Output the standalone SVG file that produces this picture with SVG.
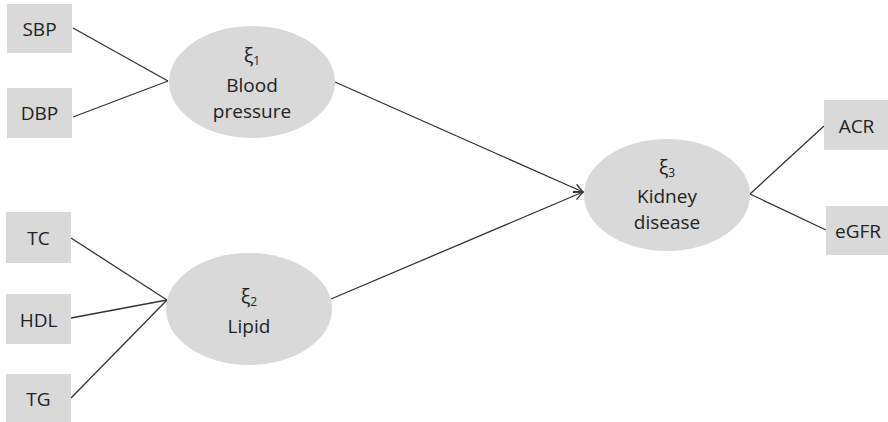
<svg xmlns="http://www.w3.org/2000/svg" width="888" height="422" viewBox="0 0 888 422">
<style>
.box{fill:#d9d9d9;}
.ell{fill:#d9d9d9;}
.t{font-family:"Open Sans","Liberation Sans",sans-serif;font-size:19px;fill:#222;text-anchor:middle;}
.xi{font-size:20px;}
.sub{font-size:12px;}
.c{stroke:#333;stroke-width:1.3;fill:none;}
</style>
<defs>
<marker id="arr" markerWidth="12" markerHeight="12" refX="10" refY="5" orient="auto" markerUnits="userSpaceOnUse">
<path d="M1,0.5 L10,5 L1,9.5" fill="none" stroke="#333" stroke-width="1.3"/>
</marker>
</defs>
<rect width="888" height="422" fill="#fff"/>
<g id="connectors">
<line class="c" x1="73" y1="28" x2="168" y2="81"/>
<line class="c" x1="73" y1="117" x2="168" y2="81"/>
<line class="c" x1="71" y1="238" x2="167" y2="300"/>
<line class="c" x1="71" y1="318" x2="167" y2="300"/>
<line class="c" x1="71" y1="398" x2="167" y2="300"/>
<line class="c" x1="335" y1="82" x2="583" y2="192" marker-end="url(#arr)"/>
<line class="c" x1="331" y1="299" x2="583" y2="192" marker-end="url(#arr)"/>
<line class="c" x1="750" y1="194" x2="824" y2="126"/>
<line class="c" x1="750" y1="194" x2="826" y2="230"/>
</g>
<g id="SBP"><rect class="box" x="7" y="4" width="65" height="49"/><text class="t" x="39.5" y="36">SBP</text></g>
<g id="DBP"><rect class="box" x="7" y="88" width="65" height="50"/><text class="t" x="39.5" y="120">DBP</text></g>
<g id="TC"><rect class="box" x="6" y="212" width="65" height="51"/><text class="t" x="38.5" y="245">TC</text></g>
<g id="HDL"><rect class="box" x="6" y="294" width="65" height="50"/><text class="t" x="38.5" y="327">HDL</text></g>
<g id="TG"><rect class="box" x="6" y="374" width="65" height="50"/><text class="t" x="38.5" y="406">TG</text></g>
<g id="ACR"><rect class="box" x="824" y="100" width="65" height="50"/><text class="t" x="856.5" y="133">ACR</text></g>
<g id="eGFR"><rect class="box" x="826" y="206" width="63" height="49"/><text class="t" x="858" y="238">eGFR</text></g>
<g id="xi1"><ellipse class="ell" cx="252" cy="82" rx="83" ry="56"/>
<text class="t" x="252" y="62"><tspan class="xi">ξ</tspan><tspan class="sub" dy="3">1</tspan></text>
<text class="t" x="252" y="92">Blood</text>
<text class="t" x="252" y="118">pressure</text></g>
<g id="xi2"><ellipse class="ell" cx="249" cy="309" rx="83" ry="56"/>
<text class="t" x="249" y="303"><tspan class="xi">ξ</tspan><tspan class="sub" dy="3">2</tspan></text>
<text class="t" x="249" y="333">Lipid</text></g>
<g id="xi3"><ellipse class="ell" cx="667" cy="195" rx="83" ry="56"/>
<text class="t" x="667" y="174"><tspan class="xi">ξ</tspan><tspan class="sub" dy="3">3</tspan></text>
<text class="t" x="667" y="203">Kidney</text>
<text class="t" x="667" y="229">disease</text></g>
</svg>
